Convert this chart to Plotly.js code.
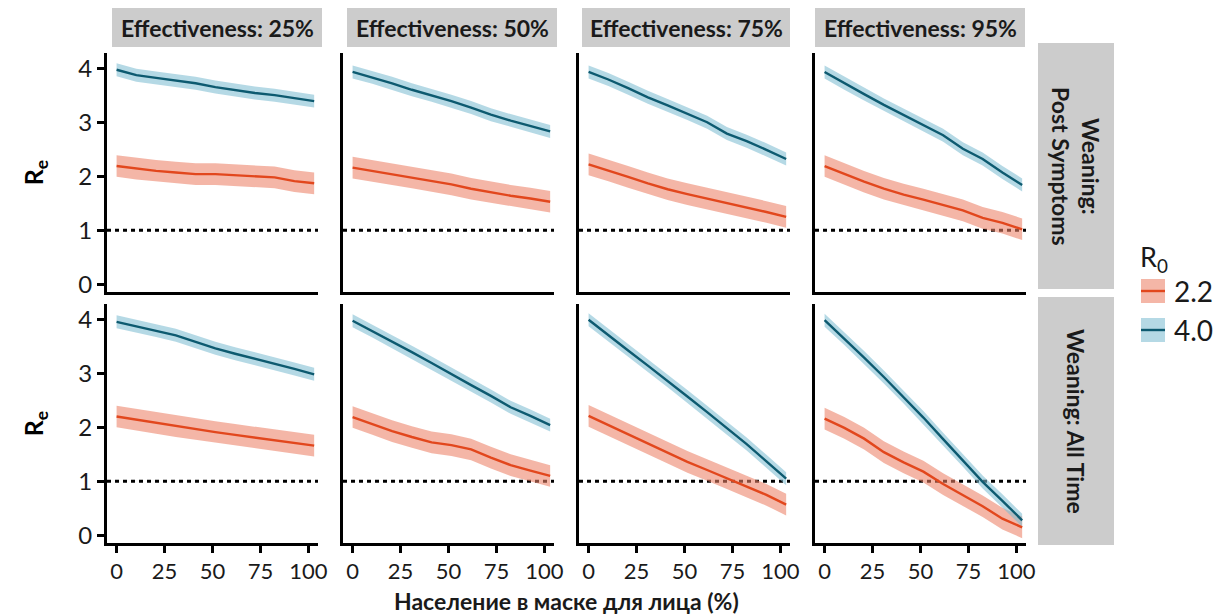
<!DOCTYPE html>
<html>
<head>
<meta charset="utf-8">
<script src="https://cdn.plot.ly/plotly-3.0.1.min.js"></script>
<style>
html,body{margin:0;padding:0;background:#fff;}
#chart{width:1223px;height:614px;}
</style>
</head>
<body>
<div id="chart"></div>
<script>
// ---------- data ----------
const maskPct = [0, 10.3, 20.6, 30.9, 41.2, 51.5, 61.8, 72.1, 82.4, 92.7, 103];
const effectiveness = ['Effectiveness: 25%', 'Effectiveness: 50%', 'Effectiveness: 75%', 'Effectiveness: 95%'];
const weaning = ['Weaning:<br>Post Symptoms', 'Weaning: All Time'];
const r0Labels = ['2.2', '4.0'];
const xTicks = [0, 25, 50, 75, 100];
const yTicks = [0, 1, 2, 3, 4];
const threshold = 1;

// Weaning: Post Symptoms
const ps25_r22 = [2.19, 2.14, 2.10, 2.07, 2.04, 2.04, 2.02, 2.00, 1.98, 1.91, 1.87];
const ps25_r40 = [3.97, 3.87, 3.82, 3.77, 3.72, 3.65, 3.59, 3.54, 3.50, 3.45, 3.39];
const ps50_r22 = [2.16, 2.10, 2.04, 1.98, 1.92, 1.85, 1.77, 1.70, 1.64, 1.59, 1.53];
const ps50_r40 = [3.93, 3.83, 3.72, 3.60, 3.50, 3.39, 3.27, 3.14, 3.03, 2.93, 2.83];
const ps75_r22 = [2.22, 2.11, 1.99, 1.87, 1.76, 1.67, 1.59, 1.51, 1.42, 1.34, 1.25];
const ps75_r40 = [3.93, 3.79, 3.63, 3.46, 3.31, 3.16, 3.00, 2.79, 2.65, 2.49, 2.32];
const ps95_r22 = [2.19, 2.04, 1.90, 1.77, 1.66, 1.57, 1.47, 1.37, 1.23, 1.14, 1.02];
const ps95_r40 = [3.93, 3.72, 3.52, 3.32, 3.13, 2.95, 2.76, 2.51, 2.32, 2.07, 1.84];
// Weaning: All Time
const at25_r22 = [2.20, 2.14, 2.08, 2.02, 1.96, 1.91, 1.86, 1.81, 1.76, 1.71, 1.66];
const at25_r40 = [3.95, 3.87, 3.79, 3.70, 3.58, 3.46, 3.36, 3.27, 3.17, 3.08, 2.98];
const at50_r22 = [2.19, 2.06, 1.93, 1.82, 1.72, 1.67, 1.59, 1.44, 1.30, 1.20, 1.10];
const at50_r40 = [3.97, 3.78, 3.58, 3.39, 3.19, 2.98, 2.78, 2.58, 2.37, 2.21, 2.04];
const at75_r22 = [2.21, 2.04, 1.87, 1.70, 1.53, 1.36, 1.21, 1.06, 0.91, 0.75, 0.57];
const at75_r40 = [3.99, 3.70, 3.42, 3.14, 2.86, 2.57, 2.28, 1.98, 1.69, 1.37, 1.05];
const at95_r22 = [2.16, 1.99, 1.79, 1.54, 1.35, 1.18, 0.95, 0.74, 0.54, 0.31, 0.15];
const at95_r40 = [3.98, 3.64, 3.29, 2.93, 2.56, 2.18, 1.78, 1.39, 0.99, 0.64, 0.28];

// ribbon half-widths
const band_r22 = 0.2;
const band_r40 = 0.12;

const panels = [
  [[ps25_r22, ps25_r40], [ps50_r22, ps50_r40], [ps75_r22, ps75_r40], [ps95_r22, ps95_r40]],
  [[at25_r22, at25_r40], [at50_r22, at50_r40], [at75_r22, at75_r40], [at95_r22, at95_r40]]
];
const bands = [band_r22, band_r40];

// ---------- style ----------
const W = 1223, H = 614;
const lineCol = ['#E2471D', '#0D5A70'];
const fillCol = ['rgba(236,130,104,0.58)', 'rgba(128,190,211,0.58)'];
const colLeft = [107, 343, 579, 815];
const colW = 211;
const rowTop = [53, 304];
const rowH = 239;
const stripX = [[112, 322], [347, 557], [582, 790], [815, 1025]];
const FONT = 'Lato, "Open Sans", sans-serif';

const traces = [];
const layout = {
  width: W, height: H,
  margin: {l: 0, r: 0, t: 0, b: 0},
  paper_bgcolor: '#fff', plot_bgcolor: '#fff',
  showlegend: false,
  font: {family: FONT, color: '#1a1a1a'},
  shapes: [], annotations: []
};

for (let r = 0; r < 2; r++) {
  for (let c = 0; c < 4; c++) {
    const n = r * 4 + c + 1;
    const xa = 'x' + (n === 1 ? '' : n), ya = 'y' + (n === 1 ? '' : n);
    const xk = 'xaxis' + (n === 1 ? '' : n), yk = 'yaxis' + (n === 1 ? '' : n);
    layout[xk] = {
      domain: [colLeft[c] / W, (colLeft[c] + colW) / W],
      anchor: ya, range: [-5, 105],
      showline: true, linecolor: '#000', linewidth: 3,
      showgrid: false, zeroline: false,
      tickvals: xTicks, ticks: r === 1 ? 'outside' : '', ticklen: 7, tickwidth: 3, tickcolor: '#000',
      showticklabels: r === 1,
      tickfont: {family: FONT, size: 22, color: '#1a1a1a'},
      fixedrange: true
    };
    layout[yk] = {
      domain: [1 - (rowTop[r] + rowH) / H, 1 - rowTop[r] / H],
      anchor: xa, range: [-0.14, 4.28],
      showline: true, linecolor: '#000', linewidth: 3,
      showgrid: false, zeroline: false,
      tickvals: yTicks, ticks: c === 0 ? 'outside' : '', ticklen: 7, tickwidth: 3, tickcolor: '#000',
      showticklabels: c === 0,
      tickfont: {family: FONT, size: 24, color: '#1a1a1a'},
      fixedrange: true
    };
    if (c === 0) {
      layout[yk].title = {text: '<b>R<sub>e</sub></b>', font: {family: FONT, size: 25, color: '#000'}, standoff: 28};
    }
    // threshold dotted line
    layout.shapes.push({
      type: 'line', xref: xa + ' domain', yref: ya,
      x0: 0, x1: 1, y0: threshold, y1: threshold,
      line: {color: '#000', width: 3, dash: '4px,4px'}, layer: 'below'
    });
    // ribbons then lines
    for (let s = 0; s < 2; s++) {
      const v = panels[r][c][s];
      const up = v.map(d => d + bands[s]);
      const lo = v.map(d => d - bands[s]);
      traces.push({
        type: 'scatter', mode: 'lines', xaxis: xa, yaxis: ya,
        x: maskPct.concat(maskPct.slice().reverse()),
        y: up.concat(lo.slice().reverse()),
        fill: 'toself', fillcolor: fillCol[s], line: {width: 0}, hoverinfo: 'skip'
      });
    }
    for (let s = 0; s < 2; s++) {
      traces.push({
        type: 'scatter', mode: 'lines', xaxis: xa, yaxis: ya,
        x: maskPct, y: panels[r][c][s], name: r0Labels[s],
        line: {color: lineCol[s], width: 2.4}
      });
    }
  }
}

// top strips
for (let c = 0; c < 4; c++) {
  layout.shapes.push({
    type: 'rect', xref: 'paper', yref: 'paper',
    x0: stripX[c][0] / W, x1: stripX[c][1] / W, y0: 1 - 47 / H, y1: 1 - 8 / H,
    fillcolor: '#CCCCCC', line: {width: 0}
  });
  layout.annotations.push({
    xref: 'paper', yref: 'paper', x: (stripX[c][0] + stripX[c][1]) / 2 / W, y: 1 - 28 / H,
    text: '<b>' + effectiveness[c] + '</b>', showarrow: false,
    font: {family: FONT, size: 23, color: '#1a1a1a'}, xanchor: 'center', yanchor: 'middle'
  });
}
// right strips
const rStrip = [[43, 289], [297, 545]];
for (let r = 0; r < 2; r++) {
  layout.shapes.push({
    type: 'rect', xref: 'paper', yref: 'paper',
    x0: 1038 / W, x1: 1114 / W, y0: 1 - rStrip[r][1] / H, y1: 1 - rStrip[r][0] / H,
    fillcolor: '#CCCCCC', line: {width: 0}
  });
  layout.annotations.push({
    xref: 'paper', yref: 'paper', x: 1076 / W, y: 1 - (rStrip[r][0] + rStrip[r][1]) / 2 / H,
    text: '<b>' + weaning[r] + '</b>', showarrow: false, textangle: 90,
    font: {family: FONT, size: 23, color: '#1a1a1a'}, xanchor: 'center', yanchor: 'middle'
  });
}
// x title
layout.annotations.push({
  xref: 'paper', yref: 'paper', x: 566 / W, y: 1 - 601 / H,
  text: '<b>Население в маске для лица (%)</b>', showarrow: false,
  font: {family: FONT, size: 23, color: '#1a1a1a'}, xanchor: 'center', yanchor: 'middle'
});
// legend
layout.annotations.push({
  xref: 'paper', yref: 'paper', x: 1138 / W, y: 1 - 258 / H,
  text: 'R<sub>0</sub>', showarrow: false,
  font: {family: FONT, size: 27, color: '#1a1a1a'}, xanchor: 'left', yanchor: 'middle'
});
const keyY = [[279, 303], [318, 342]];
for (let s = 0; s < 2; s++) {
  layout.shapes.push({
    type: 'rect', xref: 'paper', yref: 'paper',
    x0: 1141 / W, x1: 1165 / W, y0: 1 - keyY[s][1] / H, y1: 1 - keyY[s][0] / H,
    fillcolor: fillCol[s], line: {width: 0}
  });
  layout.shapes.push({
    type: 'line', xref: 'paper', yref: 'paper',
    x0: 1141 / W, x1: 1165 / W, y0: 1 - (keyY[s][0] + keyY[s][1]) / 2 / H, y1: 1 - (keyY[s][0] + keyY[s][1]) / 2 / H,
    line: {color: lineCol[s], width: 2.4}
  });
  layout.annotations.push({
    xref: 'paper', yref: 'paper', x: 1172 / W, y: 1 - (keyY[s][0] + keyY[s][1]) / 2 / H,
    text: r0Labels[s], showarrow: false,
    font: {family: FONT, size: 28, color: '#1a1a1a'}, xanchor: 'left', yanchor: 'middle'
  });
}

Plotly.newPlot('chart', traces, layout, {displayModeBar: false, staticPlot: true});
</script>
</body>
</html>
